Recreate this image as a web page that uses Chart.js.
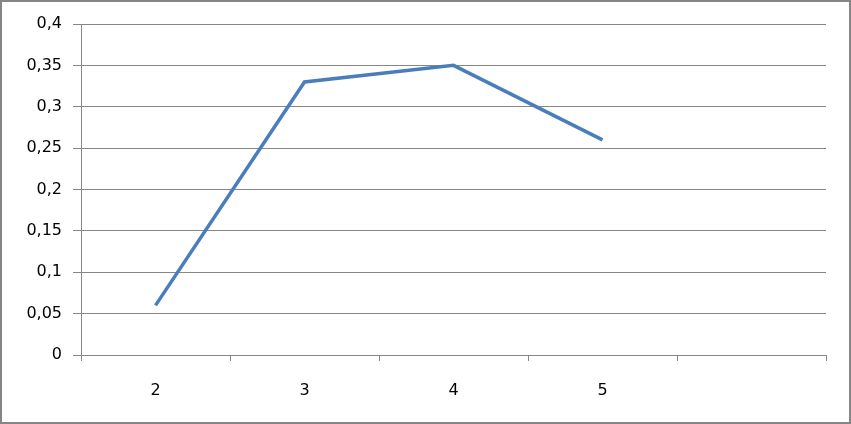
<!DOCTYPE html>
<html>
<head>
<meta charset="utf-8">
<script src="https://cdn.jsdelivr.net/npm/chart.js@4/dist/chart.umd.min.js"></script>
<style>
html,body{margin:0;padding:0;background:#fff;}
#wrap{position:relative;width:851px;height:424px;}
</style>
</head>
<body>
<div id="wrap"><canvas id="c" width="851" height="424"></canvas></div>
<script>
const categories = ['2', '3', '4', '5', ''];
const seriesValues = [0.06, 0.33, 0.35, 0.26, null];
const yTickMin = 0;
const yTickMax = 0.4;
const yTickStep = 0.05;

const framePlugin = {
  id: 'frame',
  afterDraw(chart) {
    const ctx = chart.ctx;
    ctx.save();
    ctx.strokeStyle = '#868686';
    ctx.lineWidth = 2;
    ctx.strokeRect(1, 1, chart.width - 2, chart.height - 2);
    ctx.restore();
  }
};

new Chart(document.getElementById('c'), {
  type: 'line',
  data: {
    labels: categories,
    datasets: [{
      data: seriesValues,
      borderColor: '#4a7ebb',
      borderWidth: 3.5,
      pointRadius: 0,
      tension: 0,
      fill: false,
      borderCapStyle: 'butt'
    }]
  },
  options: {
    responsive: false,
    animation: false,
    devicePixelRatio: 1,
    layout: { padding: { left: 0, top: 24, right: 25, bottom: 0 } },
    plugins: { legend: { display: false }, tooltip: { enabled: false } },
    scales: {
      x: {
        offset: true,
        grid: { offset: true, drawOnChartArea: false, drawTicks: true, tickLength: 6, color: '#868686', lineWidth: 1 },
        border: { display: true, color: '#868686', width: 1 },
        ticks: { color: '#000', font: { family: 'DejaVu Sans', size: 16 }, padding: 20, maxRotation: 0, autoSkip: false },
        afterFit(scale) { scale.height = 69; }
      },
      y: {
        min: yTickMin,
        max: yTickMax,
        grid: { color: '#868686', lineWidth: 1, tickLength: 8, drawTicks: true },
        border: { display: true, color: '#868686', width: 1 },
        ticks: {
          stepSize: yTickStep,
          color: '#000',
          font: { family: 'DejaVu Sans', size: 16 },
          padding: 11,
          callback: v => String(Math.round(v * 100) / 100).replace('.', ',')
        },
        afterFit(scale) { scale.width = 81; }
      }
    }
  },
  plugins: [framePlugin]
});
</script>
</body>
</html>
